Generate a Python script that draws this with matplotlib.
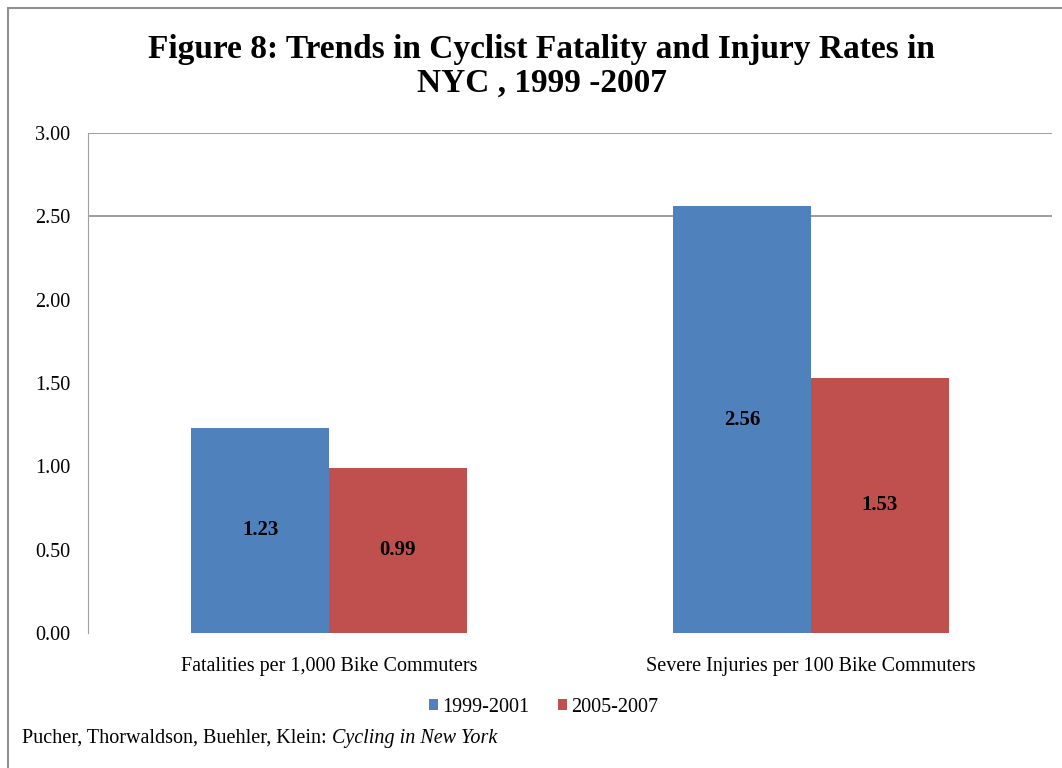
import numpy as np
import matplotlib.pyplot as plt
from matplotlib.patches import Rectangle

plt.rcParams['font.family'] = ['Liberation Serif', 'DejaVu Serif']

categories = ['Fatalities per 1,000 Bike Commuters',
              'Severe Injuries per 100 Bike Commuters']
series_names = ['1999-2001', '2005-2007']
values_1999_2001 = [1.23, 2.56]
values_2005_2007 = [0.99, 1.53]
labels_1999_2001 = ['1.23', '2.56']
labels_2005_2007 = ['0.99', '1.53']
y_ticks = [0.0, 0.5, 1.0, 1.5, 2.0, 2.5, 3.0]
grid_levels = [2.5, 3.0]

blue = '#4F81BD'
red = '#C0504D'

fig = plt.figure(figsize=(10.62, 7.68), dpi=100)
ax = fig.add_axes([0.0829, 0.1758, 0.9077, 0.651])

x = np.arange(len(categories))
width = 0.286
bars1 = ax.bar(x - width / 2, values_1999_2001, width, color=blue,
               label=series_names[0], zorder=3)
bars2 = ax.bar(x + width / 2, values_2005_2007, width, color=red,
               label=series_names[1], zorder=3)

# value labels sit in the middle of each bar
for bars, texts in [(bars1, labels_1999_2001), (bars2, labels_2005_2007)]:
    for b, t in zip(bars, texts):
        ax.text(b.get_x() + b.get_width() / 2, b.get_height() / 2, t,
                ha='center', va='center', fontsize=15, fontweight='bold',
                zorder=4)

for g in grid_levels:
    ax.axhline(g, color='#8c8c8c', linewidth=1.2, zorder=1)

ax.set_xlim(-0.5, 1.5)
ax.set_ylim(0, 3.0)
ax.set_yticks(y_ticks)
ax.set_yticklabels(['%.2f' % v for v in y_ticks], fontsize=14.5)
ax.set_xticks(x)
ax.set_xticklabels(categories, fontsize=14.5)
ax.tick_params(axis='y', length=0, pad=13)
ax.tick_params(axis='x', length=0, pad=17)
for s in ['top', 'right', 'bottom']:
    ax.spines[s].set_visible(False)
ax.spines['left'].set_color('#a0a0a0')

fig.legend(handles=[bars1, bars2], labels=series_names, loc='center',
           bbox_to_anchor=(0.512, 0.079), ncol=2, frameon=False, fontsize=14.5,
           handlelength=0.45, handleheight=0.45, handletextpad=0.2,
           columnspacing=1.4)

fig.text(0.51, 0.914, 'Figure 8: Trends in Cyclist Fatality and Injury Rates in\nNYC , 1999 -2007',
         ha='center', va='center', fontsize=24, fontweight='bold',
         linespacing=1.12)

# source line: plain authors, italic title right after
src = fig.text(0.021, 0.039, 'Pucher, Thorwaldson, Buehler, Klein: ', fontsize=14.5,
               ha='left', va='center')
fig.canvas.draw()
bb = src.get_window_extent().transformed(fig.transFigure.inverted())
fig.text(bb.x1, 0.039, 'Cycling in New York', fontsize=14.5,
         ha='left', va='center', style='italic')

# outer frame of the chart area
fig.patches.append(Rectangle((8 / 1062, -0.1), 1.2, 1 - 8 / 768 + 0.1,
                             transform=fig.transFigure, fill=False,
                             edgecolor='#909090', linewidth=1.5))

fig.savefig('out.png', dpi=100)
